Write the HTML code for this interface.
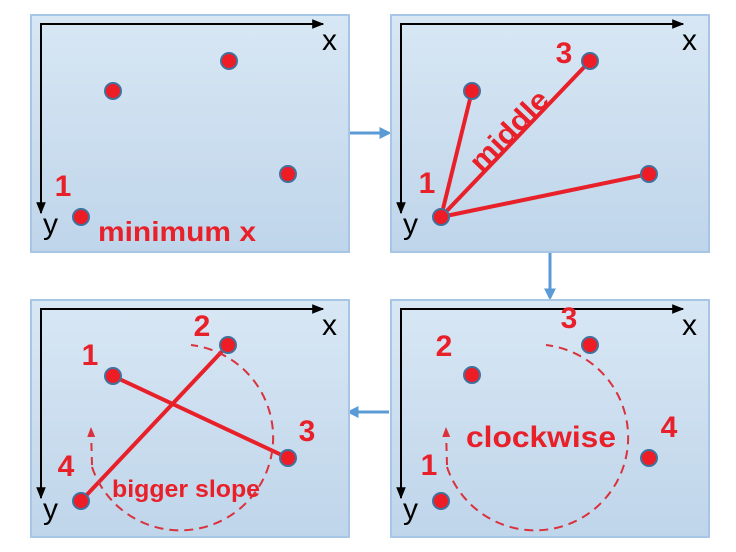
<!DOCTYPE html>
<html><head><meta charset="utf-8"><style>
html,body{margin:0;padding:0;background:#fff;}
svg{display:block;font-family:"Liberation Sans",sans-serif;}
</style></head><body>
<svg id="fig" width="736" height="552" viewBox="0 0 736 552">
<defs>
<linearGradient id="bg" x1="0" y1="0" x2="0" y2="1"><stop offset="0" stop-color="#d8e7f4"/><stop offset="1" stop-color="#bfd5ea"/></linearGradient>
<marker id="ah" viewBox="0 0 10 10" refX="9" refY="5" markerWidth="6" markerHeight="6" orient="auto"><path d="M0,1 L10,5 L0,9 z" fill="#000"/></marker>
<marker id="bh" viewBox="0 0 10 10" refX="8" refY="5" markerWidth="4" markerHeight="4" orient="auto"><path d="M0,0 L10,5 L0,10 z" fill="#5b9bd5"/></marker>
<marker id="rh" viewBox="0 0 10 10" refX="8" refY="5" markerWidth="5" markerHeight="5" orient="auto"><path d="M0,1 L10,5 L0,9 z" fill="#d9323c"/></marker>
</defs>

<line x1="349" y1="133" x2="389" y2="133" stroke="#5b9bd5" stroke-width="3" marker-end="url(#bh)"/>
<line x1="550" y1="252" x2="550" y2="298" stroke="#5b9bd5" stroke-width="3" marker-end="url(#bh)"/>
<line x1="389" y1="412" x2="349" y2="412" stroke="#5b9bd5" stroke-width="3" marker-end="url(#bh)"/>
<g id="panels"></g>
</svg>
<script>
const panelNames = ['panel-minimum-x','panel-middle','panel-clockwise','panel-bigger-slope'];
const panelX = [31, 391, 391, 31];
const panelY = [15, 15, 300, 300];
// point positions relative to panel origin, per panel
const ptsX = [[50,82,198,257],[50,81,199,258],[50,81,199,258],[50,82,197,257]];
const ptsY = [[202,76,46,159],[202,76,46,159],[201,75,45,158],[201,76,45,158]];
// labels: point index, text, dx, dy
const labels = [
  [[0,'1',-18,-21]],
  [[0,'1',-14,-24],[2,'3',-26,2]],
  [[0,'1',-12,-26],[1,'2',-28,-19],[2,'3',-21,-17],[3,'4',20,-21]],
  [[1,'1',-23,-11],[2,'2',-26,-9],[3,'3',19,-17],[0,'4',-15,-25]]
];
const lines = [[],[[0,1],[0,2],[0,3]],[],[[1,3],[0,2]]];
const NS='http://www.w3.org/2000/svg';
const root=document.getElementById('panels');
function mk(tag,attrs,parent){const e=document.createElementNS(NS,tag);for(const k in attrs)e.setAttribute(k,attrs[k]);parent.appendChild(e);return e;}
for(let p=0;p<4;p++){
  const g=mk('g',{transform:`translate(${panelX[p]},${panelY[p]})`},root);
  
  
  const r=mk('rect',{x:0,y:0,width:318,height:237,fill:'url(#bg)',stroke:'#a7c6e5','stroke-width':2},g);
  
  
  const ax=mk('line',{x1:10,y1:9,x2:292,y2:9,stroke:'#000','stroke-width':2,'marker-end':'url(#ah)'},g);
  
  
  const ay=mk('line',{x1:10,y1:8,x2:10,y2:198,stroke:'#000','stroke-width':2,'marker-end':'url(#ah)'},g);
  
  
  const tx=mk('text',{x:291,y:35,'font-size':30,fill:'#000'},g);tx.textContent='x';
  
  
  const ty=mk('text',{x:12,y:219,'font-size':30,fill:'#000'},g);ty.textContent='y';
  
  
  for(const [a,b] of lines[p]){
    const l=mk('line',{x1:ptsX[p][a],y1:ptsY[p][a],x2:ptsX[p][b],y2:ptsY[p][b],stroke:'#e8202a','stroke-width':4},g);
    
    
  }
  if(p>=2){
    const cx=p==2?147:152, cy=137, R=93;
    const d=`M ${cx-R+2} ${cy+30} A ${R} ${R} 0 1 0 ${cx+8} ${cy-R+1}`;
    const arc=mk('path',{d:d,fill:'none',stroke:'#d9323c','stroke-width':2,'stroke-dasharray':'9 6'},g);
    
    
    const ar=mk('line',{x1:cx-R+2,y1:cy+28,x2:cx-R+1,y2:cy-8,stroke:'#d9323c','stroke-width':2,'stroke-dasharray':'8 6','marker-end':'url(#rh)'},g);
    
    
  }
  for(let i=0;i<4;i++){
    const c=mk('circle',{cx:ptsX[p][i],cy:ptsY[p][i],r:8,fill:'#ee1c25',stroke:'#41719c','stroke-width':2},g);
    
    
  }
  for(const [i,t,dx,dy] of labels[p]){
    const e=mk('text',{x:ptsX[p][i]+dx,y:ptsY[p][i]+dy,'font-size':30,'font-weight':'bold',fill:'#e8202a','text-anchor':'middle'},g);
    e.textContent=t;
    
    
  }
}
function addText(p,txt,x,y,size,name,rot,len){
  const g=root.children[p];
  const e=mk('text',{x:x,y:y,'font-size':size,'font-weight':'bold',fill:'#e8202a'},g);
  if(len){e.setAttribute('textLength',len);e.setAttribute('lengthAdjust','spacingAndGlyphs');}
  if(rot)e.setAttribute('transform',`rotate(${rot} ${x} ${y})`);
  e.textContent=txt;
  
  
}
addText(0,'minimum x',67,226,28,'caption-minimum-x',0,158);
addText(1,'middle',90,158,28,'caption-middle',-46,100);
addText(2,'clockwise',75,147,30,'caption-clockwise',0,150);
addText(3,'bigger slope',81,197,24,'caption-bigger-slope',0,148);
</script>
</body></html>
